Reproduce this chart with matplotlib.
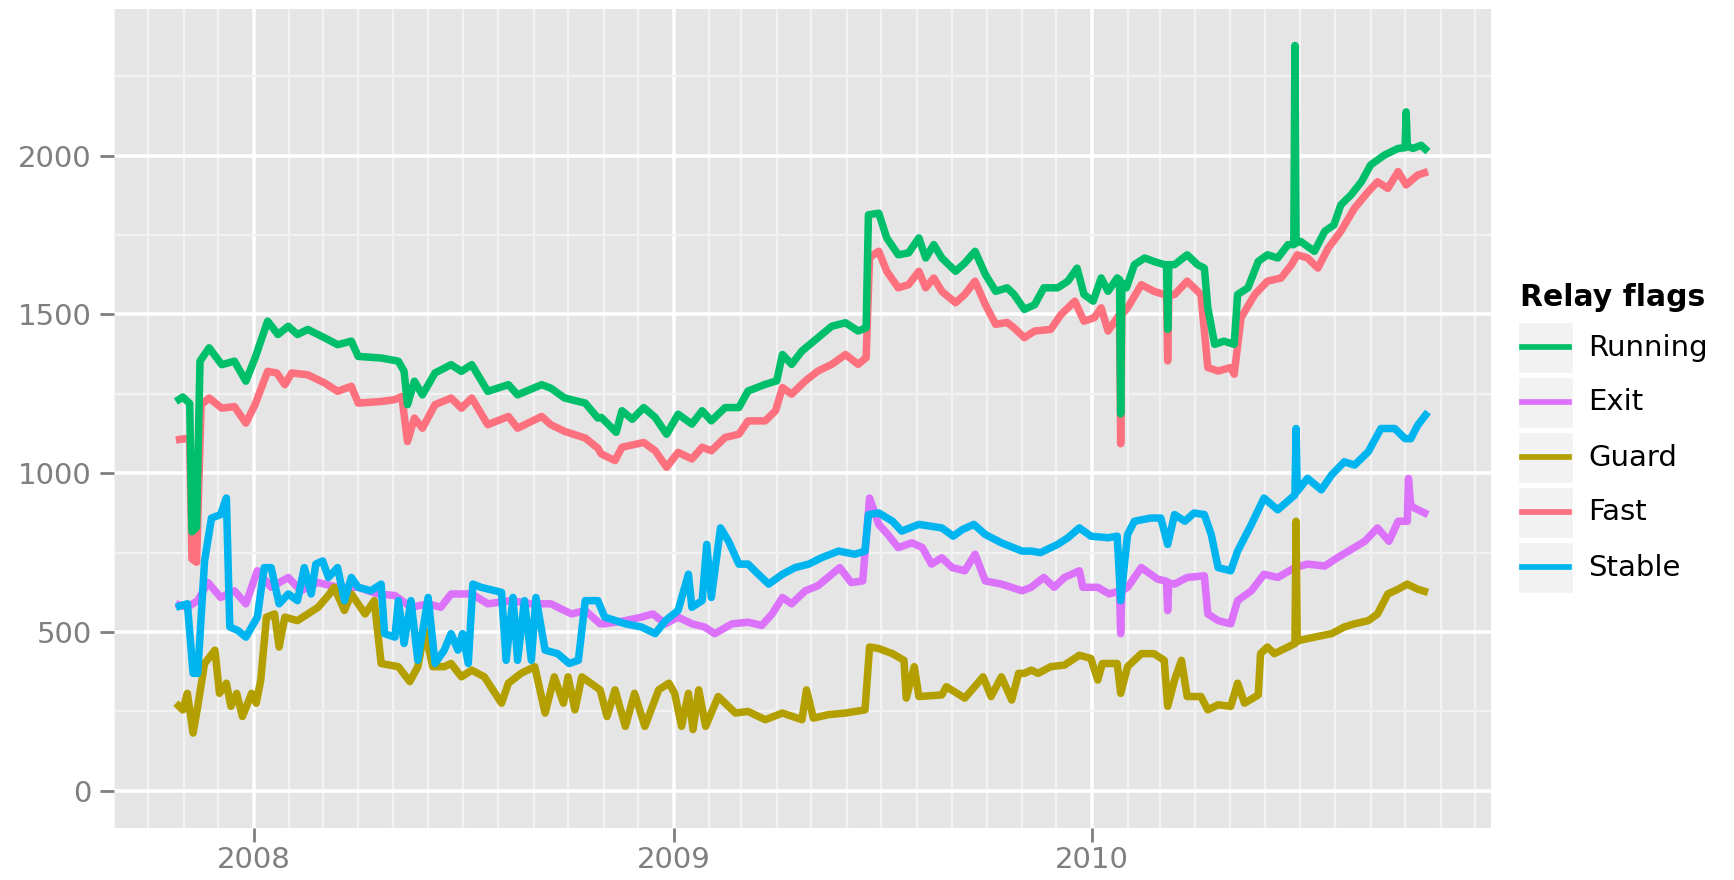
import numpy as np
import matplotlib
matplotlib.use("Agg")
import matplotlib.pyplot as plt
import matplotlib.dates as mdates
from matplotlib.patches import Rectangle
from matplotlib.ticker import MultipleLocator

# days are counted from 2008-01-01
running_days = [-68, -62, -56, -54, -50, -47, -39, -28, -17, -7, 1, 12, 21, 30, 38, 47, 62, 73, 85, 91,
                111, 126, 131, 134, 140, 147, 158, 172, 181, 190, 204, 222, 230, 251, 259, 271, 289, 300,
                303, 316, 321, 330, 340, 350, 360, 370, 382, 391, 399, 411, 423, 431, 446, 456, 461, 469,
                478, 492, 504, 516, 527, 534, 536, 545, 552, 562, 571, 580, 586, 593, 600, 612, 620, 629,
                638, 647, 657, 663, 672, 681, 689, 701, 710, 718, 724, 732, 739, 745, 753, 755, 756, 757,
                761, 768, 777, 785, 794, 796, 797, 798, 803, 814, 823, 829, 832, 838, 846, 855, 858, 867,
                876, 884, 893, 902, 907, 908, 909, 913, 925, 934, 942, 948, 957, 966, 974, 986, 998, 1004,
                1005, 1006, 1011, 1018, 1024]
running = [1226, 1240, 1220, 816, 830, 1353, 1395, 1342, 1353, 1290, 1363, 1479, 1437, 1463, 1437, 1453,
           1426, 1405, 1416, 1368, 1363, 1353, 1321, 1216, 1290, 1247, 1316, 1342, 1321, 1342, 1258, 1279,
           1247, 1279, 1268, 1237, 1221, 1174, 1176, 1129, 1197, 1170, 1207, 1176, 1123, 1186, 1155, 1197,
           1165, 1207, 1207, 1259, 1280, 1291, 1374, 1343, 1385, 1427, 1463, 1474, 1448, 1458, 1814, 1819,
           1741, 1688, 1694, 1741, 1678, 1720, 1678, 1636, 1662, 1699, 1626, 1573, 1584, 1563, 1516, 1531,
           1584, 1584, 1605, 1646, 1563, 1542, 1615, 1573, 1615, 1610, 1187, 1600, 1584, 1657, 1678, 1667,
           1657, 1657, 1453, 1657, 1657, 1688, 1657, 1646, 1521, 1406, 1416, 1406, 1563, 1584, 1667, 1688,
           1678, 1720, 1720, 2347, 1725, 1730, 1699, 1762, 1782, 1845, 1877, 1918, 1971, 2002, 2023, 2025,
           2138, 2030, 2023, 2033, 2013]

fast_days = [-68, -58, -56, -54, -50, -46, -39, -28, -17, -7, 1, 12, 20, 27, 33, 47, 62, 73, 85, 91, 111,
             123, 129, 134, 140, 147, 158, 172, 181, 190, 204, 222, 230, 251, 259, 271, 289, 300, 303, 315,
             321, 340, 350, 360, 370, 382, 391, 399, 411, 423, 431, 446, 455, 461, 469, 481, 492, 504, 516,
             527, 534, 537, 545, 552, 562, 571, 580, 586, 593, 600, 612, 620, 629, 638, 647, 657, 663, 672,
             681, 695, 704, 716, 724, 733, 739, 745, 755, 756, 757, 762, 774, 785, 794, 796, 797, 798, 803,
             814, 826, 832, 841, 852, 855, 861, 873, 884, 896, 905, 910, 919, 928, 937, 948, 960, 972, 980,
             989, 998, 1005, 1015, 1024]
fast = [1105, 1110, 1105, 730, 720, 1216, 1237, 1205, 1210, 1158, 1216, 1321, 1316, 1279, 1316, 1310, 1284,
        1258, 1274, 1221, 1226, 1232, 1242, 1100, 1174, 1142, 1216, 1237, 1205, 1237, 1153, 1179, 1142, 1179,
        1153, 1132, 1111, 1079, 1061, 1040, 1082, 1097, 1071, 1019, 1066, 1045, 1082, 1071, 1113, 1123, 1165,
        1165, 1197, 1270, 1249, 1291, 1322, 1343, 1374, 1343, 1364, 1680, 1699, 1636, 1584, 1594, 1636, 1584,
        1615, 1573, 1537, 1563, 1605, 1531, 1469, 1475, 1458, 1427, 1448, 1453, 1500, 1542, 1479, 1490, 1521,
        1448, 1500, 1093, 1500, 1521, 1594, 1573, 1563, 1563, 1354, 1560, 1563, 1605, 1563, 1333, 1322, 1333,
        1312, 1490, 1563, 1605, 1615, 1657, 1688, 1678, 1646, 1709, 1762, 1835, 1887, 1918, 1897, 1950, 1908,
        1939, 1950]

stable_days = [-68, -58, -53, -49, -43, -37, -29, -24, -21, -14, -7, 3, 9, 15, 22, 30, 38, 44, 50, 54, 60,
               65, 73, 79, 85, 91, 102, 111, 114, 123, 126, 131, 137, 143, 152, 158, 166, 172, 178, 182, 187,
               191, 198, 216, 220, 226, 230, 236, 242, 246, 254, 265, 275, 283, 289, 300, 306, 324, 338, 350,
               359, 370, 379, 382, 391, 395, 399, 407, 414, 423, 431, 440, 449, 461, 472, 484, 495, 510, 524,
               533, 536, 545, 557, 565, 580, 591, 600, 610, 618, 628, 638, 652, 670, 678, 686, 701, 710, 720,
               730, 745, 753, 756, 762, 768, 782, 791, 797, 803, 812, 820, 829, 835, 841, 852, 858, 870, 881,
               893, 908, 909, 910, 919, 931, 940, 951, 960, 972, 983, 995, 1004, 1009, 1015, 1024]
stable = [578, 589, 370, 370, 724, 859, 870, 922, 516, 505, 484, 547, 703, 703, 589, 620, 599, 703, 620, 714,
          724, 672, 703, 599, 672, 641, 630, 651, 495, 484, 599, 464, 599, 411, 609, 401, 443, 495, 443, 495,
          401, 651, 641, 625, 411, 609, 411, 599, 411, 609, 443, 432, 401, 411, 599, 599, 547, 526, 516, 495,
          536, 568, 682, 578, 599, 776, 609, 828, 786, 714, 714, 682, 651, 682, 703, 714, 734, 755, 745, 755,
          870, 875, 849, 818, 839, 833, 828, 802, 823, 839, 807, 781, 755, 755, 750, 776, 797, 828, 802, 797,
          802, 599, 807, 849, 859, 859, 776, 870, 849, 875, 870, 807, 703, 693, 755, 839, 922, 885, 932, 1141,
          943, 984, 948, 995, 1036, 1026, 1068, 1141, 1141, 1109, 1109, 1151, 1193]

exit_days = [-68, -58, -49, -40, -29, -17, -7, 3, 15, 30, 41, 56, 73, 91, 108, 123, 137, 152, 163, 172, 190,
             204, 224, 242, 259, 277, 289, 302, 306, 324, 338, 348, 359, 370, 382, 393, 402, 417, 431, 443,
             452, 461, 469, 481, 492, 504, 511, 521, 531, 537, 545, 553, 562, 574, 583, 591, 600, 609, 620,
             629, 638, 652, 670, 678, 689, 698, 707, 720, 723, 736, 746, 755, 756, 757, 762, 774, 788, 796,
             797, 798, 803, 814, 829, 832, 841, 852, 858, 870, 881, 893, 908, 919, 934, 945, 957, 969, 980,
             990, 998, 1006, 1007, 1009, 1012, 1024]
exit_ = [589, 578, 599, 656, 609, 630, 589, 693, 641, 672, 630, 656, 641, 641, 620, 615, 578, 589, 578, 620,
         620, 589, 599, 589, 589, 557, 568, 526, 526, 536, 547, 557, 526, 547, 526, 516, 495, 526, 531, 521,
         557, 609, 589, 630, 646, 682, 703, 656, 661, 922, 839, 807, 766, 781, 766, 714, 734, 703, 693, 745,
         661, 651, 630, 641, 672, 641, 672, 693, 641, 641, 620, 630, 495, 630, 641, 703, 667, 660, 568, 655,
         651, 672, 677, 557, 536, 526, 599, 630, 682, 672, 703, 714, 708, 734, 760, 786, 828, 786, 849, 849,
         984, 900, 891, 870]

guard_days = [-68, -62, -58, -53, -49, -43, -34, -30, -24, -20, -15, -10, -2, 2, 6, 11, 18, 22, 27, 38, 47,
              56, 66, 70, 79, 85, 97, 105, 111, 126, 136, 143, 149, 156, 166, 172, 181, 190, 201, 216, 222,
              233, 245, 254, 262, 270, 274, 280, 286, 302, 308, 315, 324, 332, 341, 353, 362, 367, 373, 379,
              383, 388, 394, 405, 420, 431, 446, 461, 478, 482, 488, 501, 516, 533, 537, 545, 557, 567, 569,
              576, 580, 600, 604, 620, 636, 643, 652, 661, 667, 672, 678, 684, 695, 707, 720, 730, 736, 740,
              753, 756, 762, 774, 785, 794, 797, 803, 809, 814, 826, 832, 841, 852, 858, 864, 876, 878, 884,
              890, 902, 908, 909, 910, 912, 925, 940, 951, 960, 972, 980, 989, 998, 1006, 1015, 1024]
guard = [276, 255, 307, 182, 266, 401, 443, 307, 339, 266, 307, 234, 307, 276, 349, 547, 557, 453, 547, 536,
         557, 578, 620, 641, 568, 620, 557, 599, 401, 391, 344, 391, 505, 391, 391, 401, 359, 380, 359, 276,
         339, 370, 391, 245, 359, 276, 359, 255, 359, 318, 234, 318, 203, 307, 203, 318, 339, 307, 203, 307,
         193, 318, 203, 297, 245, 250, 224, 245, 224, 318, 229, 240, 245, 255, 453, 448, 432, 411, 292, 391,
         297, 302, 328, 292, 359, 297, 359, 286, 370, 370, 380, 370, 391, 396, 427, 417, 349, 401, 401, 307,
         391, 432, 432, 411, 266, 349, 411, 297, 297, 255, 271, 266, 339, 276, 302, 432, 453, 432, 453, 464,
         849, 470, 474, 484, 495, 516, 526, 536, 557, 620, 635, 651, 635, 625]

flags = ["Running", "Exit", "Guard", "Fast", "Stable"]
colors = {"Running": "#00BF6A", "Exit": "#DC71FA", "Guard": "#B3A000",
          "Fast": "#FD717F", "Stable": "#00B5EF"}
series = {"Running": (running_days, running), "Exit": (exit_days, exit_),
          "Guard": (guard_days, guard), "Fast": (fast_days, fast),
          "Stable": (stable_days, stable)}

base = np.datetime64("2008-01-01")


def to_dates(days):
    return base + np.array(days).astype("timedelta64[D]")


grey = "#7F7F7F"
fig = plt.figure(figsize=(17.34, 8.8), dpi=100)
ax = fig.add_axes([114 / 1734, 1 - 828 / 880, 1377 / 1734, 819 / 880])
ax.set_facecolor("#E5E5E5")
for s in ax.spines.values():
    s.set_visible(False)

# drawing order: alphabetical, like ggplot groups
for name in ["Exit", "Fast", "Guard", "Running", "Stable"]:
    d, v = series[name]
    ax.plot(to_dates(d), v, color=colors[name], lw=5.4, solid_joinstyle="round",
            solid_capstyle="butt", zorder=3)

ax.set_xlim(to_dates([-122])[0], to_dates([1079])[0])
ax.set_ylim(-117, 2462)
ax.xaxis.set_major_locator(mdates.YearLocator())
ax.xaxis.set_major_formatter(mdates.DateFormatter("%Y"))
ax.xaxis.set_minor_locator(mdates.MonthLocator())
ax.yaxis.set_major_locator(MultipleLocator(500))
ax.yaxis.set_minor_locator(MultipleLocator(250))
ax.set_axisbelow(True)
ax.grid(which="major", color="white", lw=2.6)
ax.grid(which="minor", color="#F2F2F2", lw=1.7)
ax.tick_params(which="major", colors=grey, labelsize=21, length=10, width=2)
ax.tick_params(axis="y", pad=6)
ax.tick_params(axis="x", pad=3)
ax.tick_params(which="minor", length=0)

# legend, ggplot style keys
lax = fig.add_axes([0, 0, 1, 1])
lax.set_xlim(0, 1734)
lax.set_ylim(880, 0)
lax.axis("off")
lax.text(1520, 297, "Relay flags", fontsize=21.5, fontweight="bold", va="center", ha="left")
for i, name in enumerate(flags):
    top = 322 + i * 55
    lax.add_patch(Rectangle((1518, top), 55, 51, facecolor="#F2F2F2", edgecolor="white", lw=1))
    lax.plot([1522, 1569], [top + 25.5, top + 25.5], color=colors[name], lw=4.1)
    lax.text(1588, top + 25.5, name, fontsize=21, va="center", ha="left")

fig.savefig("out.png", dpi=100)
